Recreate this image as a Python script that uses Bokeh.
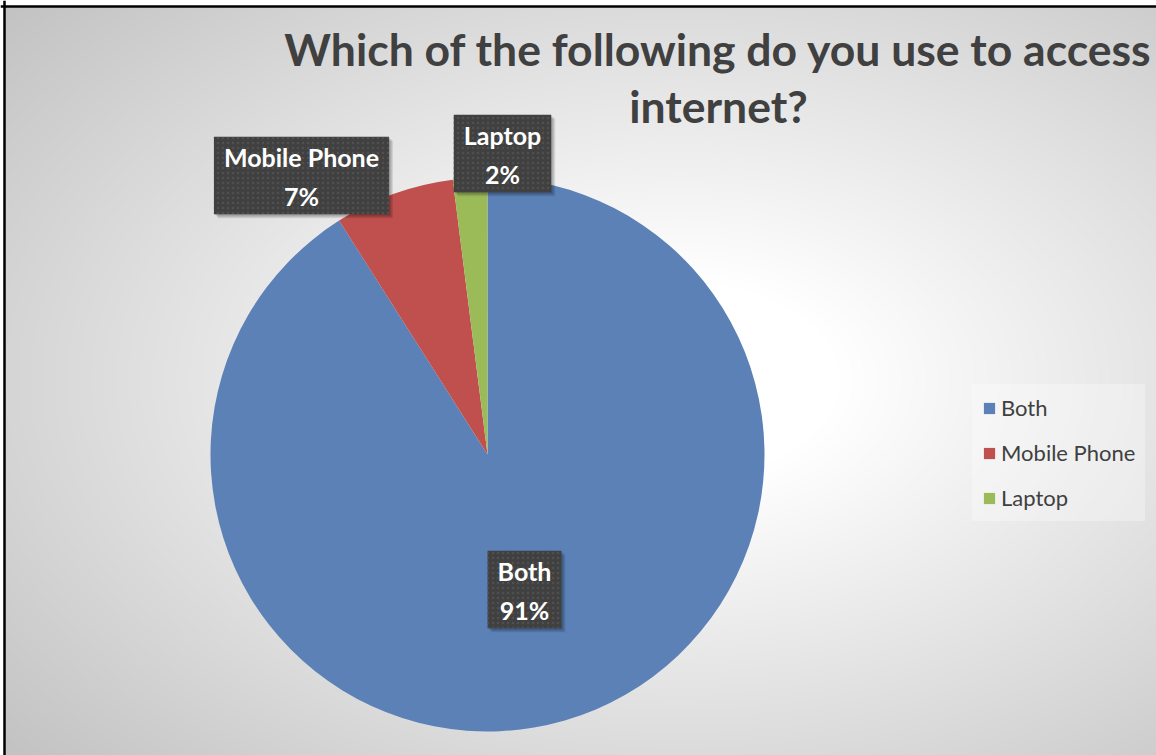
import numpy as np
from bokeh.plotting import figure
from bokeh.models import Range1d, Legend, LegendItem, Span, ColumnDataSource
from bokeh.core.properties import value
from bokeh.embed import file_html
from bokeh.resources import INLINE

# ---- data ----
categories = ["Both", "Mobile Phone", "Laptop"]
percents = [91, 7, 2]
colors = ["#5B81B7", "#C0504D", "#9BBB59"]
title_text = "Which of the following do you use to access\ninternet?"

# ---- layout (pixel-based data space) ----
W, H = 1156, 755
cx, cy, R = 487, 755 - 454, 277
label_offsets = [(37, -135), (-186, 279), (15, 301)]  # label centre relative to pie centre

p = figure(width=W, height=H, x_range=Range1d(0, W), y_range=Range1d(0, H),
           output_backend="svg", toolbar_location=None, min_border=0,
           x_axis_type=None, y_axis_type=None)
p.grid.visible = False
p.outline_line_color = None
p.background_fill_color = "white"
p.border_fill_color = "white"

# background gradient (style only)
x0, x1, y0, y1 = 4, W, 0, 749
nx, ny = 576, 375
gx = x0 + (np.arange(nx) + 0.5) * (x1 - x0) / nx
gy = y0 + (np.arange(ny) + 0.5) * (y1 - y0) / ny
XX, YY = np.meshgrid(gx, gy)
gcx, gcy = 680, 755 - 380
nd = np.sqrt(((XX - gcx) / 640) ** 2 + ((YY - gcy) / 400) ** 2)
t = np.clip((nd - 0.25) / 1.15, 0, 1)
g = (255 - 60 * t).astype(np.uint8)
img = np.empty((ny, nx), dtype=np.uint32)
v = img.view(dtype=np.uint8).reshape((ny, nx, 4))
v[:, :, 0] = g
v[:, :, 1] = g
v[:, :, 2] = g
v[:, :, 3] = 255
p.image_rgba(image=[img], x=x0, y=y0, dw=x1 - x0, dh=y1 - y0)

p.add_layout(Span(location=4, dimension="height", line_color="black", line_width=2.5))
p.add_layout(Span(location=749, dimension="width", line_color="black", line_width=2.5))

# pie
total = float(sum(percents))
cum = np.concatenate([[0], np.cumsum(percents)[:-1]])
starts = np.pi / 2 - 2 * np.pi * cum / total
ends = starts - 2 * np.pi * np.array(percents) / total
src = ColumnDataSource(dict(cat=categories, start=starts, end=ends, color=colors))
wr = p.wedge(x=cx, y=cy, radius=R, start_angle="start", end_angle="end",
             direction="clock", fill_color="color", line_color=None, source=src)

# data labels
lx = [cx + dx for dx, dy in label_offsets]
ly = [cy + dy for dx, dy in label_offsets]
ltext = [f"{c}\n{v_}%" for c, v_ in zip(categories, percents)]
lsrc = ColumnDataSource(dict(x=lx, y=ly, text=ltext))
pad = dict(left=10, right=10, top=5, bottom=3)
lab_style = dict(text_align="center", text_baseline="middle", text_font=value("Lato"),
                 text_font_style="bold", text_font_size="25px", text_line_height=1.32)
for k in range(4, 0, -1):
    p.text(x="x", y="y", text="text", source=lsrc, x_offset=k, y_offset=k,
           text_alpha=0, background_fill_color="black", background_fill_alpha=0.09,
           padding=pad, **lab_style)
p.text(x="x", y="y", text="text", source=lsrc, text_color="white",
       background_fill_color="#404040",
       background_hatch_pattern="dot", background_hatch_color="#505050",
       background_hatch_scale=5, background_hatch_weight=1, padding=pad, **lab_style)

# title
p.text(x=[718], y=[755 - 76.5], text=[title_text], text_align="center",
       text_baseline="middle", text_font=value("Lato"), text_font_style="bold",
       text_font_size="44.5px", text_line_height=1.09, text_color="#404040")

# legend
items = [LegendItem(label=c, renderers=[wr], index=i) for i, c in enumerate(categories)]
legend = Legend(items=items, location=(972, 234), padding=10, spacing=18,
                label_height=24, glyph_width=14, glyph_height=14, label_standoff=5,
                label_text_font="Lato", label_text_font_size="22px",
                label_text_color="#404040", background_fill_color="white",
                background_fill_alpha=0.3, border_line_alpha=0, margin=0)
p.add_layout(legend)

open("out.html", "w").write(file_html(p, INLINE))
